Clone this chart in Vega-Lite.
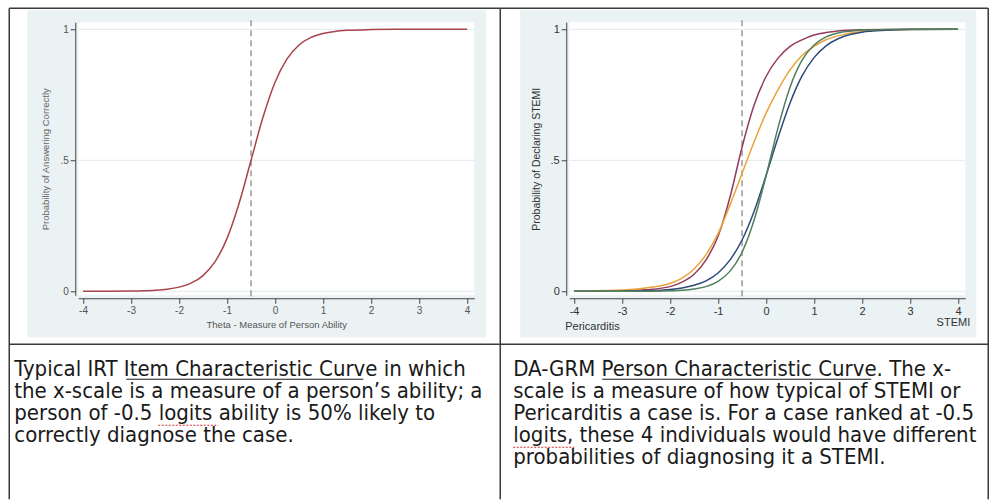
{
  "$schema": "https://vega.github.io/schema/vega-lite/v6.json",
  "padding": {"left": 8.25, "top": 7.25, "right": 2.25, "bottom": 0},
  "background": "white",
  "bounds": "flush",
  "spacing": 95,
  "config": {"view": {"stroke": null}, "font": "Liberation Sans"},
  "datasets": {
    "icc": [
      {"theta": -4, "p": 0.0001}, {"theta": -3.5, "p": 0.0003}, {"theta": -3, "p": 0.001},
      {"theta": -2.75, "p": 0.002}, {"theta": -2.5, "p": 0.004}, {"theta": -2.25, "p": 0.008},
      {"theta": -2, "p": 0.016}, {"theta": -1.75, "p": 0.031}, {"theta": -1.5, "p": 0.06},
      {"theta": -1.25, "p": 0.113}, {"theta": -1, "p": 0.202}, {"theta": -0.75, "p": 0.335},
      {"theta": -0.5, "p": 0.5}, {"theta": -0.25, "p": 0.665}, {"theta": 0, "p": 0.798},
      {"theta": 0.25, "p": 0.887}, {"theta": 0.5, "p": 0.94}, {"theta": 0.75, "p": 0.969},
      {"theta": 1, "p": 0.984}, {"theta": 1.25, "p": 0.992}, {"theta": 1.5, "p": 0.996},
      {"theta": 2, "p": 0.999}, {"theta": 2.5, "p": 1}, {"theta": 3, "p": 1}, {"theta": 4, "p": 1}
    ],
    "pcc": [
      {"person": "A", "x": -4, "p": 0}, {"person": "A", "x": -3, "p": 0.002}, {"person": "A", "x": -2.5, "p": 0.006},
      {"person": "A", "x": -2, "p": 0.018}, {"person": "A", "x": -1.75, "p": 0.035}, {"person": "A", "x": -1.5, "p": 0.065},
      {"person": "A", "x": -1.25, "p": 0.12}, {"person": "A", "x": -1, "p": 0.21}, {"person": "A", "x": -0.75, "p": 0.36},
      {"person": "A", "x": -0.5, "p": 0.55}, {"person": "A", "x": -0.25, "p": 0.71}, {"person": "A", "x": 0, "p": 0.82},
      {"person": "A", "x": 0.25, "p": 0.89}, {"person": "A", "x": 0.5, "p": 0.935}, {"person": "A", "x": 0.75, "p": 0.96},
      {"person": "A", "x": 1, "p": 0.978}, {"person": "A", "x": 1.25, "p": 0.988}, {"person": "A", "x": 1.5, "p": 0.994},
      {"person": "A", "x": 2, "p": 0.998}, {"person": "A", "x": 3, "p": 1}, {"person": "A", "x": 4, "p": 1},

      {"person": "B", "x": -4, "p": 0.001}, {"person": "B", "x": -3, "p": 0.005}, {"person": "B", "x": -2.5, "p": 0.013},
      {"person": "B", "x": -2, "p": 0.03}, {"person": "B", "x": -1.75, "p": 0.05}, {"person": "B", "x": -1.5, "p": 0.085},
      {"person": "B", "x": -1.25, "p": 0.14}, {"person": "B", "x": -1, "p": 0.22}, {"person": "B", "x": -0.75, "p": 0.33},
      {"person": "B", "x": -0.5, "p": 0.45}, {"person": "B", "x": -0.25, "p": 0.57}, {"person": "B", "x": 0, "p": 0.68},
      {"person": "B", "x": 0.25, "p": 0.77}, {"person": "B", "x": 0.5, "p": 0.845}, {"person": "B", "x": 0.75, "p": 0.9},
      {"person": "B", "x": 1, "p": 0.935}, {"person": "B", "x": 1.25, "p": 0.96}, {"person": "B", "x": 1.5, "p": 0.975},
      {"person": "B", "x": 2, "p": 0.992}, {"person": "B", "x": 2.5, "p": 0.997}, {"person": "B", "x": 3, "p": 0.999},
      {"person": "B", "x": 4, "p": 1},

      {"person": "C", "x": -4, "p": 0.0001}, {"person": "C", "x": -3, "p": 0.0007}, {"person": "C", "x": -2.5, "p": 0.0022},
      {"person": "C", "x": -2, "p": 0.007}, {"person": "C", "x": -1.75, "p": 0.013}, {"person": "C", "x": -1.5, "p": 0.023},
      {"person": "C", "x": -1.25, "p": 0.04}, {"person": "C", "x": -1, "p": 0.07}, {"person": "C", "x": -0.75, "p": 0.12},
      {"person": "C", "x": -0.5, "p": 0.196}, {"person": "C", "x": -0.25, "p": 0.305}, {"person": "C", "x": 0, "p": 0.442},
      {"person": "C", "x": 0.25, "p": 0.587}, {"person": "C", "x": 0.5, "p": 0.719}, {"person": "C", "x": 0.75, "p": 0.822},
      {"person": "C", "x": 1, "p": 0.892}, {"person": "C", "x": 1.25, "p": 0.937}, {"person": "C", "x": 1.5, "p": 0.964},
      {"person": "C", "x": 1.75, "p": 0.98}, {"person": "C", "x": 2, "p": 0.989}, {"person": "C", "x": 2.5, "p": 0.996},
      {"person": "C", "x": 3, "p": 0.999}, {"person": "C", "x": 4, "p": 1},

      {"person": "D", "x": -4, "p": 0}, {"person": "D", "x": -3, "p": 0.0001}, {"person": "D", "x": -2.5, "p": 0.0004},
      {"person": "D", "x": -2, "p": 0.002}, {"person": "D", "x": -1.75, "p": 0.004}, {"person": "D", "x": -1.5, "p": 0.009},
      {"person": "D", "x": -1.25, "p": 0.018}, {"person": "D", "x": -1, "p": 0.038}, {"person": "D", "x": -0.75, "p": 0.077},
      {"person": "D", "x": -0.5, "p": 0.149}, {"person": "D", "x": -0.25, "p": 0.271}, {"person": "D", "x": 0, "p": 0.44},
      {"person": "D", "x": 0.25, "p": 0.625}, {"person": "D", "x": 0.5, "p": 0.779}, {"person": "D", "x": 0.75, "p": 0.882},
      {"person": "D", "x": 1, "p": 0.94}, {"person": "D", "x": 1.25, "p": 0.971}, {"person": "D", "x": 1.5, "p": 0.986},
      {"person": "D", "x": 1.75, "p": 0.993}, {"person": "D", "x": 2, "p": 0.997}, {"person": "D", "x": 2.5, "p": 0.999},
      {"person": "D", "x": 3, "p": 1}, {"person": "D", "x": 4, "p": 1}
    ],
    "grid": [{"v": 0}, {"v": 0.5}, {"v": 1}],
    "one": [{}],
    "captionL": [{"lines": ["Typical IRT Item Characteristic Curve in which", "the x-scale is a measure of a person\u2019s ability; a", "person of -0.5 logits ability is 50% likely to", "correctly diagnose the case."]}],
    "captionR": [{"lines": ["DA-GRM Person Characteristic Curve.  The x-", "scale is a measure of how typical of STEMI or", "Pericarditis a case is. For a case ranked at -0.5", "logits, these 4 individuals would have different", "probabilities of diagnosing it a STEMI."]}]
  },
  "hconcat": [
    {
      "width": 396,
      "height": 273,
      "layer": [
        {
          "data": {"name": "one"},
          "mark": {"type": "rect", "fill": "#eaf2f3", "clip": false},
          "encoding": {
            "x": {
              "datum": -5.1625, "type": "quantitative",
              "scale": {"domain": [-4.1, 4.15], "nice": false, "zero": false},
              "axis": {
                "values": [-4, -3, -2, -1, 0, 1, 2, 3, 4], "labelExpr": "'' + datum.value",
                "title": "Theta - Measure of Person Ability", "offset": 3, "tickSize": 5,
                "labelPadding": 2, "labelFontSize": 10, "labelColor": "#555", "labelFlush": false,
                "titleFontSize": 9.5, "titleColor": "#555", "titleFontWeight": "normal", "titlePadding": 4,
                "domainColor": "#444", "tickColor": "#444", "grid": false, "zindex": 1
              }
            },
            "x2": {"datum": 4.4},
            "y": {
              "datum": 1.0728, "type": "quantitative",
              "scale": {"domain": [-0.015, 1.027], "nice": false, "zero": false},
              "axis": {
                "values": [0, 0.5, 1], "labelExpr": "datum.value == 0.5 ? '.5' : '' + datum.value",
                "title": "Probability of Answering Correctly", "offset": 3, "tickSize": 5,
                "labelPadding": 2, "labelFontSize": 10, "labelColor": "#555", "labelFlush": false,
                "titleFontSize": 9.5, "titleColor": "#666", "titleFontWeight": "normal", "titlePadding": 9,
                "domainColor": "#444", "tickColor": "#444", "grid": false, "zindex": 1
              }
            },
            "y2": {"datum": -0.1753}
          }
        },
        {
          "data": {"name": "one"},
          "mark": {"type": "rect", "fill": "white", "clip": false},
          "encoding": {
            "x": {"datum": -4.1, "type": "quantitative"},
            "x2": {"datum": 4.15},
            "y": {"datum": 1.027, "type": "quantitative"},
            "y2": {"datum": -0.015}
          }
        },
        {
          "data": {"name": "grid"},
          "mark": {"type": "rule", "color": "#e2ebed", "strokeWidth": 1, "clip": false},
          "encoding": {
            "y": {"field": "v", "type": "quantitative"},
            "x": {"datum": -4.1, "type": "quantitative"},
            "x2": {"datum": 4.15}
          }
        },
        {
          "data": {"name": "one"},
          "mark": {"type": "rule", "color": "#8a8a8a", "strokeWidth": 1.3, "strokeDash": [6, 4], "clip": false},
          "encoding": {
            "x": {"datum": -0.5, "type": "quantitative"},
            "y": {"datum": 1.0346, "type": "quantitative"},
            "y2": {"datum": -0.0226}
          }
        },
        {
          "data": {"name": "icc"},
          "mark": {"type": "line", "color": "#a8434b", "strokeWidth": 1.5, "interpolate": "monotone", "clip": false},
          "encoding": {
            "x": {"field": "theta", "type": "quantitative"},
            "y": {"field": "p", "type": "quantitative"}
          }
        },
        {
          "data": {"name": "one"},
          "mark": {"type": "rule", "color": "#3a3a3a", "strokeWidth": 1.5, "clip": false},
          "encoding": {
            "x": {"datum": -5.5375, "type": "quantitative"},
            "y": {"datum": 1.0804, "type": "quantitative"},
            "y2": {"datum": -0.7936}
          }
        },
        {
          "data": {"name": "one"},
          "mark": {"type": "rule", "color": "#3a3a3a", "strokeWidth": 1.5, "clip": false},
          "encoding": {
            "x": {"datum": 4.6917, "type": "quantitative"},
            "y": {"datum": 1.0804, "type": "quantitative"},
            "y2": {"datum": -0.7936}
          }
        },
        {
          "data": {"name": "one"},
          "mark": {"type": "rule", "color": "#3a3a3a", "strokeWidth": 1.5, "clip": false},
          "encoding": {
            "y": {"datum": 1.0804, "type": "quantitative"},
            "x": {"datum": -5.5375, "type": "quantitative"},
            "x2": {"datum": 4.6917}
          }
        },
        {
          "data": {"name": "one"},
          "mark": {"type": "rule", "color": "#3a3a3a", "strokeWidth": 1.5, "clip": false},
          "encoding": {
            "y": {"datum": -0.202, "type": "quantitative"},
            "x": {"datum": -5.5375, "type": "quantitative"},
            "x2": {"datum": 4.6917}
          }
        },
        {
          "data": {"name": "captionL"},
          "mark": {"type": "text", "align": "left", "baseline": "alphabetic", "lineHeight": 22, "fontSize": 22, "font": "DejaVu Sans Condensed, Liberation Sans", "color": "#1a1a1a", "clip": false},
          "encoding": {
            "text": {"field": "lines"},
            "x": {"datum": -5.4333, "type": "quantitative"},
            "y": {"datum": -0.3241, "type": "quantitative"}
          }
        },
        {
          "data": {"name": "one"},
          "mark": {"type": "rule", "color": "#1a1a1a", "strokeWidth": 1, "clip": false},
          "encoding": {
            "y": {"datum": -0.3356, "type": "quantitative"},
            "x": {"datum": -3.1, "type": "quantitative"},
            "x2": {"datum": 1.8375}
          }
        },
        {
          "data": {"name": "one"},
          "mark": {"type": "rule", "color": "#d03030", "strokeWidth": 1.2, "strokeDash": [2, 1.5], "clip": false},
          "encoding": {
            "y": {"datum": -0.5112, "type": "quantitative"},
            "x": {"datum": -2.4333, "type": "quantitative"},
            "x2": {"datum": -1.1833}
          }
        }
      ]
    },
    {
      "width": 396,
      "height": 273,
      "layer": [
        {
          "data": {"name": "one"},
          "mark": {"type": "rect", "fill": "#eaf2f3", "clip": false},
          "encoding": {
            "x": {
              "datum": -5.1208, "type": "quantitative",
              "scale": {"domain": [-4.1, 4.15], "nice": false, "zero": false},
              "axis": {
                "values": [-4, -3, -2, -1, 0, 1, 2, 3, 4], "labelExpr": "'' + datum.value",
                "title": null, "offset": 3, "tickSize": 5,
                "labelPadding": 2, "labelFontSize": 11, "labelColor": "#333", "labelFlush": false,
                "domainColor": "#444", "tickColor": "#444", "grid": false, "zindex": 1
              }
            },
            "x2": {"datum": 4.379},
            "y": {
              "datum": 1.0728, "type": "quantitative",
              "scale": {"domain": [-0.015, 1.027], "nice": false, "zero": false},
              "axis": {
                "values": [0, 0.5, 1], "labelExpr": "datum.value == 0.5 ? '.5' : '' + datum.value",
                "title": "Probability of Declaring STEMI", "offset": 3, "tickSize": 5,
                "labelPadding": 2, "labelFontSize": 11, "labelColor": "#333", "labelFlush": false,
                "titleFontSize": 10.5, "titleColor": "#333", "titleFontWeight": "normal", "titlePadding": 9,
                "domainColor": "#444", "tickColor": "#444", "grid": false, "zindex": 1
              }
            },
            "y2": {"datum": -0.1753}
          }
        },
        {
          "data": {"name": "one"},
          "mark": {"type": "rect", "fill": "white", "clip": false},
          "encoding": {
            "x": {"datum": -4.1, "type": "quantitative"},
            "x2": {"datum": 4.15},
            "y": {"datum": 1.027, "type": "quantitative"},
            "y2": {"datum": -0.015}
          }
        },
        {
          "data": {"name": "grid"},
          "mark": {"type": "rule", "color": "#e2ebed", "strokeWidth": 1, "clip": false},
          "encoding": {
            "y": {"field": "v", "type": "quantitative"},
            "x": {"datum": -4.1, "type": "quantitative"},
            "x2": {"datum": 4.15}
          }
        },
        {
          "data": {"name": "one"},
          "mark": {"type": "rule", "color": "#8a8a8a", "strokeWidth": 1.3, "strokeDash": [6, 4], "clip": false},
          "encoding": {
            "x": {"datum": -0.5, "type": "quantitative"},
            "y": {"datum": 1.0346, "type": "quantitative"},
            "y2": {"datum": -0.0226}
          }
        },
        {
          "data": {"name": "pcc"},
          "mark": {"type": "line", "strokeWidth": 1.5, "interpolate": "monotone", "clip": false},
          "encoding": {
            "x": {"field": "x", "type": "quantitative"},
            "y": {"field": "p", "type": "quantitative"},
            "color": {
              "field": "person", "type": "nominal",
              "scale": {"domain": ["A", "B", "C", "D"], "range": ["#943a5c", "#e8a33a", "#2e4a7a", "#4f7f5c"]},
              "legend": null
            }
          }
        },
        {
          "data": {"name": "one"},
          "mark": {"type": "text", "align": "left", "baseline": "middle", "fontSize": 11, "color": "#333", "clip": false},
          "encoding": {
            "text": {"value": "Pericarditis"},
            "x": {"datum": -4.1833, "type": "quantitative"},
            "y": {"datum": -0.1371, "type": "quantitative"}
          }
        },
        {
          "data": {"name": "one"},
          "mark": {"type": "text", "align": "right", "baseline": "middle", "fontSize": 11, "color": "#333", "clip": false},
          "encoding": {
            "text": {"value": "STEMI"},
            "x": {"datum": 4.254, "type": "quantitative"},
            "y": {"datum": -0.1219, "type": "quantitative"}
          }
        },
        {
          "data": {"name": "one"},
          "mark": {"type": "rule", "color": "#3a3a3a", "strokeWidth": 1.5, "clip": false},
          "encoding": {
            "x": {"datum": 4.629, "type": "quantitative"},
            "y": {"datum": 1.0804, "type": "quantitative"},
            "y2": {"datum": -0.7936}
          }
        },
        {
          "data": {"name": "one"},
          "mark": {"type": "rule", "color": "#3a3a3a", "strokeWidth": 1.5, "clip": false},
          "encoding": {
            "y": {"datum": 1.0804, "type": "quantitative"},
            "x": {"datum": -5.5375, "type": "quantitative"},
            "x2": {"datum": 4.629}
          }
        },
        {
          "data": {"name": "one"},
          "mark": {"type": "rule", "color": "#3a3a3a", "strokeWidth": 1.5, "clip": false},
          "encoding": {
            "y": {"datum": -0.202, "type": "quantitative"},
            "x": {"datum": -5.5375, "type": "quantitative"},
            "x2": {"datum": 4.629}
          }
        },
        {
          "data": {"name": "captionR"},
          "mark": {"type": "text", "align": "left", "baseline": "alphabetic", "lineHeight": 22, "fontSize": 22, "font": "DejaVu Sans Condensed, Liberation Sans", "color": "#1a1a1a", "clip": false},
          "encoding": {
            "text": {"field": "lines"},
            "x": {"datum": -5.2667, "type": "quantitative"},
            "y": {"datum": -0.3241, "type": "quantitative"}
          }
        },
        {
          "data": {"name": "one"},
          "mark": {"type": "rule", "color": "#1a1a1a", "strokeWidth": 1, "clip": false},
          "encoding": {
            "y": {"datum": -0.3356, "type": "quantitative"},
            "x": {"datum": -3.4125, "type": "quantitative"},
            "x2": {"datum": 2.1917}
          }
        },
        {
          "data": {"name": "one"},
          "mark": {"type": "rule", "color": "#d03030", "strokeWidth": 1.2, "strokeDash": [2, 1.5], "clip": false},
          "encoding": {
            "y": {"datum": -0.5951, "type": "quantitative"},
            "x": {"datum": -5.2667, "type": "quantitative"},
            "x2": {"datum": -3.9958}
          }
        }
      ]
    }
  ]
}
